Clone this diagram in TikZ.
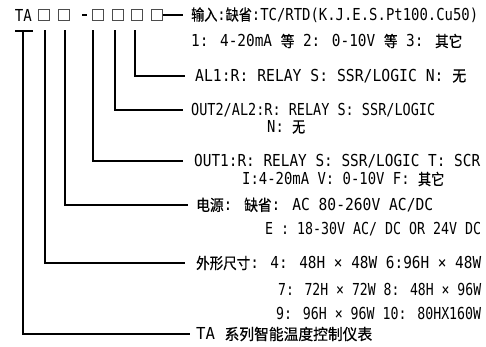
\documentclass[tikz,border=0pt]{standalone}
\usepackage{fontspec}
\usepackage{graphicx}
\setmainfont{DejaVu Sans Mono}
\newfontfamily\cjk{Noto Sans CJK SC}[FakeBold=0.6]
\newcommand\cj[1]{{\cjk\fontsize{15.5}{17}\selectfont #1}}
\newcommand\fitto[2]{\resizebox{#1pt}{\height}{#2}}
\begin{document}
\begin{tikzpicture}[x=1pt,y=-1pt,
  lbl/.style={anchor=west,inner sep=0pt,font=\fontsize{16.5}{18}\selectfont},
  hdr/.style={inner sep=0pt,font=\fontsize{16.5}{18}\selectfont},
  sq/.style={draw=black!70,line width=0.9pt,minimum size=10.5pt,inner sep=0pt},
  conn/.style={line width=2.3pt}]
\useasboundingbox (0,0) rectangle (486,346);
% header
\node[hdr] (ta) at (23.5,15) {\fitto{17}{TA}};
\node[sq] (b1) at (44,15) {};
\node[sq] (b2) at (64,15) {};
\node[inner sep=0pt] (dash) at (84.5,15) {\rule{5pt}{1.3pt}};
\node[sq] (b3) at (98,15) {};
\node[sq] (b4) at (118,15) {};
\node[sq] (b5) at (137,15) {};
\node[sq] (b6) at (157,15) {};
% labels
\node[lbl] (t1) at (191,15) {\fitto{287}{\cj{输入}:\cj{缺省}:TC/RTD(K.J.E.S.Pt100.Cu50)}};
\node[lbl] (t2) at (191,41) {\fitto{271}{1: 4-20mA \cj{等} 2: 0-10V \cj{等} 3: \cj{其它}}};
\node[lbl] (t3) at (195,76) {\fitto{271}{AL1:R: RELAY S: SSR/LOGIC N: \cj{无}}};
\node[lbl] (t4) at (191,110) {\fitto{244}{OUT2/AL2:R: RELAY S: SSR/LOGIC}};
\node[lbl] (t4b) at (267,127) {\fitto{38}{N: \cj{无}}};
\node[lbl] (t5) at (194,161) {\fitto{286}{OUT1:R: RELAY S: SSR/LOGIC T: SCR}};
\node[lbl] (t5b) at (242,179) {\fitto{202}{I:4-20mA V: 0-10V F: \cj{其它}}};
\node[lbl] (t6) at (196,205) {\fitto{237}{\cj{电源}: \cj{缺省}: AC 80-260V AC/DC}};
\node[lbl] (t6b) at (265,229) {\fitto{216}{E : 18-30V AC/ DC OR 24V DC}};
\node[lbl] (t7) at (196,263) {\fitto{285}{\cj{外形尺寸}: 4: 48H × 48W 6:96H × 48W}};
\node[lbl] (t7b) at (278,289) {\fitto{203}{7: 72H × 72W 8: 48H × 96W}};
\node[lbl] (t7c) at (276,313) {\fitto{205}{9: 96H × 96W 10: 80HX160W}};
\node[lbl] (t8) at (196,334) {\fitto{176}{TA \cj{系列智能温度控制仪表}}};
% connector tops
\coordinate (cta) at (23,31);
\coordinate (c1) at (45,30);
\coordinate (c2) at (65,30);
\coordinate (c3) at (93,30);
\coordinate (c4) at (115,30);
\coordinate (c5) at (135,30);
% connectors
\draw[conn,shorten >=8pt] (b6.east) -- (t1.west);
\draw[conn] ([xshift=-8pt]cta) -- ([xshift=10pt]cta);
\draw[conn,shorten >=10pt] (c5) |- (t3.west);
\draw[conn,shorten >=8pt] (c4) |- (t4.west);
\draw[conn,shorten >=11pt] (c3) |- (t5.west);
\draw[conn,shorten >=8pt] (c2) |- (t6.west);
\draw[conn,shorten >=11pt] (c1) |- (t7.west);
\draw[conn,shorten >=6pt] (cta) |- (t8.west);
\end{tikzpicture}
\end{document}
